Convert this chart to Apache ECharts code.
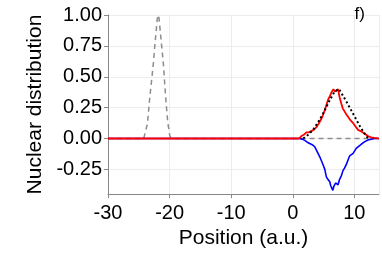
<!DOCTYPE html>
<html><head><meta charset="utf-8">
<script src="https://cdn.jsdelivr.net/npm/echarts@6/dist/echarts.min.js"></script>
<style>html,body{margin:0;padding:0;background:#fff}#c{width:382px;height:254px}</style>
</head><body><div id="c"></div>
<script>
// Data
const xTicks = [-30, -20, -10, 0, 10];
const yTicks = [-0.25, 0, 0.25, 0.5, 0.75, 1.0];

const initX = [-30, -24.2, -24.0, -23.6, -23.2, -22.9, -22.65, -22.4, -22.2, -22.0, -21.85, -21.7, -21.5, -21.25, -21.0, -20.8, -20.6, -20.3, -19.95, -19.7, 14];
const initY = [0, 0, 0.01, 0.12, 0.34, 0.48, 0.6, 0.75, 0.86, 0.97, 1.0, 0.97, 0.86, 0.73, 0.6, 0.45, 0.31, 0.13, 0.02, 0, 0];

const refX = [1.7, 2.5, 3.3, 4.1, 4.9, 5.5, 6.0, 6.8, 7.5, 8.1, 8.7, 9.25, 9.8, 10.35, 10.9, 11.4, 11.9, 12.3];
const refY = [0, 0.03, 0.07, 0.13, 0.2, 0.26, 0.31, 0.38, 0.40, 0.35, 0.30, 0.25, 0.2, 0.15, 0.10, 0.06, 0.02, 0];

const redX = [-30, 1.0, 1.4, 1.8, 2.2, 2.6, 3.0, 3.4, 3.8, 4.2, 4.65, 4.9, 5.2, 5.45, 5.7, 6.0, 6.3, 6.6, 6.85, 7.1, 7.35, 7.6, 7.9, 8.15, 8.4, 8.7, 9.0, 9.25, 9.5, 9.8, 10.05, 10.3, 10.6, 10.9, 11.2, 11.4, 11.8, 12.2, 12.7, 13.3, 14];
const redY = [0, 0, 0.02, 0.03, 0.05, 0.05, 0.06, 0.07, 0.09, 0.12, 0.16, 0.19, 0.23, 0.27, 0.31, 0.34, 0.375, 0.40, 0.38, 0.39, 0.40, 0.335, 0.28, 0.24, 0.22, 0.195, 0.175, 0.155, 0.14, 0.125, 0.11, 0.09, 0.07, 0.06, 0.055, 0.05, 0.035, 0.02, 0.01, 0.005, 0];

const blueX = [-30, 1.1, 1.5, 1.95, 2.35, 2.75, 3.15, 3.55, 3.8, 4.1, 4.4, 4.65, 4.9, 5.2, 5.45, 5.7, 6.0, 6.15, 6.3, 6.5, 6.65, 6.8, 6.95, 7.1, 7.35, 7.6, 7.9, 8.15, 8.4, 8.7, 9.0, 9.25, 9.5, 9.8, 10.05, 10.3, 10.6, 10.9, 11.3, 11.7, 12.2, 12.75, 13.3, 14];
const blueY = [0, 0, -0.005, -0.015, -0.03, -0.04, -0.05, -0.065, -0.09, -0.12, -0.15, -0.18, -0.21, -0.25, -0.31, -0.33, -0.35, -0.38, -0.39, -0.42, -0.39, -0.375, -0.36, -0.35, -0.375, -0.33, -0.30, -0.26, -0.24, -0.21, -0.17, -0.14, -0.13, -0.12, -0.10, -0.08, -0.065, -0.055, -0.04, -0.025, -0.012, -0.005, 0, 0];

const pairs = (xs, ys) => xs.map((x, i) => [x, ys[i]]);
const FONT = 'Liberation Sans';

const chart = echarts.init(document.getElementById('c'), null, {renderer: 'canvas'});
chart.setOption({
  animation: false,
  backgroundColor: '#fff',
  title: {text: 'f)', right: 12, top: 1, textStyle: {fontFamily: FONT, fontSize: 17, fontWeight: 'normal', color: '#000'}},
  grid: {left: 108, right: 3, top: 15, bottom: 54},
  xAxis: {
    type: 'value', min: -30, max: 14, interval: 10,
    name: 'Position (a.u.)', nameLocation: 'middle', nameGap: 30,
    nameTextStyle: {fontFamily: FONT, fontSize: 21, color: '#000'},
    axisLine: {show: true, onZero: false, lineStyle: {color: '#888', width: 1}},
    axisTick: {show: true, length: 4, lineStyle: {color: '#888'}},
    axisLabel: {fontFamily: FONT, fontSize: 20, color: '#000', margin: 9, showMaxLabel: false},
    splitLine: {show: true, lineStyle: {color: '#ececec', width: 1}}
  },
  yAxis: {
    type: 'value', min: -0.45, max: 1.0,
    name: 'Nuclear distribution', nameLocation: 'middle', nameGap: 54,
    nameTextStyle: {fontFamily: FONT, fontSize: 21, color: '#000'},
    axisLine: {show: true, onZero: false, lineStyle: {color: '#888', width: 1}},
    axisTick: {show: true, length: 4, customValues: yTicks, lineStyle: {color: '#888'}},
    axisLabel: {fontFamily: FONT, fontSize: 20, color: '#000', margin: 6, customValues: yTicks, formatter: v => v.toFixed(2)},
    splitLine: {show: true, lineStyle: {color: '#ececec', width: 1}}
  },
  series: [
    {type: 'line', data: pairs(initX, initY), symbol: 'none', lineStyle: {color: '#8c8c8c', width: 1.5, type: [5, 4]}, z: 2},
    {type: 'line', data: pairs(blueX, blueY), symbol: 'none', lineStyle: {color: '#0000ff', width: 1.6}, z: 3},
    {type: 'line', data: pairs(redX, redY), symbol: 'none', lineStyle: {color: '#ff0000', width: 1.8}, z: 4},
    {type: 'line', data: pairs(refX, refY), symbol: 'none', lineStyle: {color: '#000', width: 2, type: [2, 2.5]}, z: 5}
  ]
});
</script></body></html>
